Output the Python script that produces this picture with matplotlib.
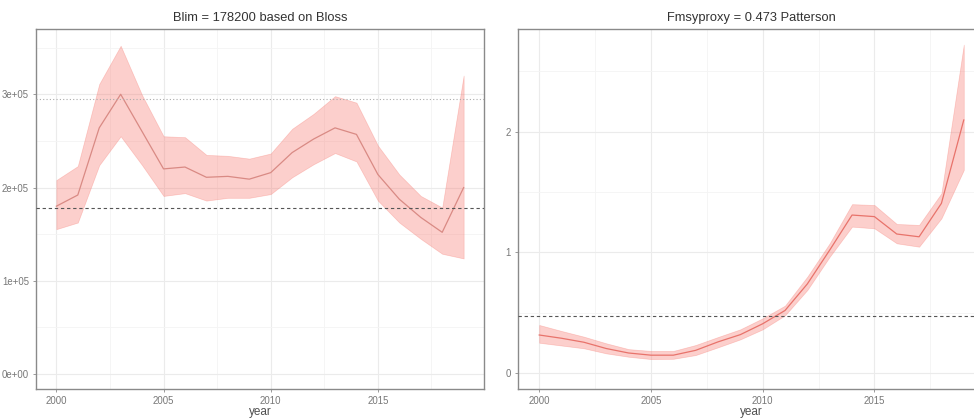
import matplotlib
matplotlib.use("Agg")
import matplotlib.pyplot as plt
from matplotlib.ticker import FixedLocator

years = list(range(2000, 2020))

# SSB (left panel)
ssb_mid = [1.80e5, 1.92e5, 2.64e5, 3.00e5, 2.60e5, 2.20e5, 2.22e5, 2.11e5, 2.12e5, 2.09e5,
           2.16e5, 2.375e5, 2.52e5, 2.64e5, 2.57e5, 2.14e5, 1.875e5, 1.68e5, 1.52e5, 2.00e5]
ssb_hi = [2.08e5, 2.23e5, 3.11e5, 3.52e5, 2.99e5, 2.55e5, 2.54e5, 2.35e5, 2.34e5, 2.31e5,
          2.365e5, 2.63e5, 2.79e5, 2.98e5, 2.91e5, 2.45e5, 2.14e5, 1.91e5, 1.785e5, 3.20e5]
ssb_lo = [1.554e5, 1.625e5, 2.24e5, 2.55e5, 2.24e5, 1.91e5, 1.94e5, 1.86e5, 1.89e5, 1.89e5,
          1.93e5, 2.11e5, 2.25e5, 2.37e5, 2.28e5, 1.86e5, 1.625e5, 1.45e5, 1.29e5, 1.24e5]
blim = 178200
ssb_dotted = 295400

# F (right panel)
f_mid = [0.317, 0.29, 0.257, 0.205, 0.168, 0.15, 0.15, 0.19, 0.26, 0.32,
         0.41, 0.52, 0.74, 1.02, 1.31, 1.297, 1.153, 1.13, 1.407, 2.097]
f_hi = [0.40, 0.35, 0.303, 0.248, 0.20, 0.185, 0.185, 0.234, 0.30, 0.364,
        0.455, 0.56, 0.80, 1.076, 1.40, 1.393, 1.236, 1.228, 1.49, 2.72]
f_lo = [0.253, 0.23, 0.207, 0.165, 0.137, 0.118, 0.12, 0.151, 0.215, 0.281,
        0.364, 0.48, 0.69, 0.965, 1.214, 1.20, 1.076, 1.048, 1.283, 1.683]
fmsy = 0.473

titles = ["Blim = 178200 based on Bloss", "Fmsyproxy = 0.473 Patterson"]
xticks = [2000, 2005, 2010, 2015]

plt.rcParams['font.family'] = ['Liberation Sans', 'DejaVu Sans']

fig = plt.figure(figsize=(9.74, 4.19), dpi=100)
W, H = 974, 419
def pos(x0, y0, x1, y1):
    return [x0 / W, 1 - y1 / H, (x1 - x0) / W, (y1 - y0) / H]

ax1 = fig.add_axes(pos(36, 29, 484, 389))
ax2 = fig.add_axes(pos(518, 29, 985, 389))

fill_c = '#F8766D'

def style(ax):
    ax.set_facecolor('white')
    ax.xaxis.set_major_locator(FixedLocator(xticks))
    ax.xaxis.set_minor_locator(FixedLocator([2002.5, 2007.5, 2012.5, 2017.5]))
    ax.grid(True, which='major', color='#EBEBEB', linewidth=0.8, zorder=0)
    ax.grid(True, which='minor', color='#F4F4F4', linewidth=0.6, zorder=0)
    ax.set_axisbelow(True)
    for s in ax.spines.values():
        s.set_color('#8A8A8A')
        s.set_linewidth(1.0)
    ax.tick_params(axis='both', which='major', length=2.5, width=0.6, color='#8A8A8A',
                   labelsize=6.9, labelcolor='#777777', pad=2.5)
    ax.tick_params(axis='both', which='minor', length=0)
    ax.set_xlabel('year', fontsize=8.5, color='#505050', labelpad=0)

# Left
ax1.fill_between(years, ssb_lo, ssb_hi, facecolor=fill_c, alpha=0.35, edgecolor=fill_c,
                 linewidth=0.5, zorder=2)
ax1.plot(years, ssb_mid, color='#D98A84', linewidth=0.9, zorder=3)
ax1.axhline(blim, color='#555555', linestyle=(0, (3, 2.5)), linewidth=0.8, zorder=4)
ax1.axhline(ssb_dotted, color='#AAAAAA', linestyle=(0, (1, 2)), linewidth=0.8, zorder=4)
ax1.set_xlim(1999.05, 2019.95)
ax1.set_ylim(-0.16e5, 3.70e5)
ax1.yaxis.set_major_locator(FixedLocator([0, 1e5, 2e5, 3e5]))
ax1.yaxis.set_minor_locator(FixedLocator([0.5e5, 1.5e5, 2.5e5, 3.5e5]))
ax1.set_yticklabels(['0e+00', '1e+05', '2e+05', '3e+05'])
style(ax1)
ax1.set_title(titles[0], fontsize=9.3, color='#333333', pad=6)

# Right
ax2.fill_between(years, f_lo, f_hi, facecolor=fill_c, alpha=0.35, edgecolor=fill_c,
                 linewidth=0.5, zorder=2)
ax2.plot(years, f_mid, color='#E8736B', linewidth=0.9, zorder=3)
ax2.axhline(fmsy, color='#555555', linestyle=(0, (3, 2.5)), linewidth=0.8, zorder=4)
ax2.set_xlim(1999.05, 2019.95)
ax2.set_ylim(-0.13, 2.85)
ax2.yaxis.set_major_locator(FixedLocator([0, 1, 2]))
ax2.yaxis.set_minor_locator(FixedLocator([0.5, 1.5, 2.5]))
ax2.set_yticklabels(['0', '1', '2'])
style(ax2)
ax2.set_title(titles[1], fontsize=9.3, color='#333333', pad=6)

fig.savefig('out.png', dpi=100)
